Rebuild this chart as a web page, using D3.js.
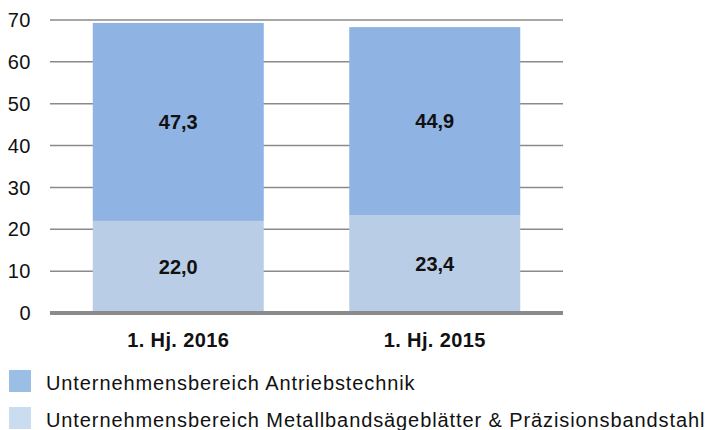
<!DOCTYPE html>
<html>
<head>
<meta charset="utf-8">
<script src="https://cdn.jsdelivr.net/npm/d3@7"></script>
<style>
  body { margin: 0; background: #fff; }
  svg { font-family: "Liberation Sans", Arial, sans-serif; }
</style>
</head>
<body>
<div class="chart"></div>
<script>
const categories = ["1. Hj. 2016", "1. Hj. 2015"];
const metall = [22.0, 23.4];
const antrieb = [47.3, 44.9];
const seriesNames = [
  "Unternehmensbereich Antriebstechnik",
  "Unternehmensbereich Metallbandsägeblätter & Präzisionsbandstahl"
];
const yTicks = [0, 10, 20, 30, 40, 50, 60, 70];

const fmt = v => v.toFixed(1).replace(".", ",");

const svg = d3.select(".chart").append("svg")
  .attr("width", 712)
  .attr("height", 430);

const x = d3.scaleBand()
  .domain(categories)
  .range([50, 563])
  .paddingInner(1 / 3)
  .paddingOuter(1 / 6);

const y = d3.scaleLinear()
  .domain([0, 70])
  .range([313, 20]);

// gridlines
svg.append("g")
  .selectAll("line")
  .data(yTicks.filter(d => d > 0))
  .join("line")
  .attr("x1", 50).attr("x2", 563)
  .attr("y1", d => y(d)).attr("y2", d => y(d))
  .attr("stroke", "#8a8a8a")
  .attr("stroke-width", 1.5);

// y axis labels
svg.append("g")
  .selectAll("text")
  .data(yTicks)
  .join("text")
  .attr("x", 31)
  .attr("y", d => y(d))
  .attr("dy", "0.36em")
  .attr("text-anchor", "end")
  .attr("font-size", 20)
  .attr("letter-spacing", 0.5)
  .attr("fill", "#111")
  .text(d => d);

const stacks = categories.map((c, i) => ({ c, m: metall[i], a: antrieb[i] }));

// bottom segment
svg.append("g")
  .selectAll("rect")
  .data(stacks)
  .join("rect")
  .attr("x", d => x(d.c))
  .attr("width", x.bandwidth())
  .attr("y", d => y(d.m))
  .attr("height", d => y(0) - y(d.m))
  .attr("fill", "#b9cde6");

// top segment
svg.append("g")
  .selectAll("rect")
  .data(stacks)
  .join("rect")
  .attr("x", d => x(d.c))
  .attr("width", x.bandwidth())
  .attr("y", d => y(d.m + d.a))
  .attr("height", d => y(d.m) - y(d.m + d.a))
  .attr("fill", "#8fb3e2");

// baseline
svg.append("line")
  .attr("x1", 50).attr("x2", 563)
  .attr("y1", y(0)).attr("y2", y(0))
  .attr("stroke", "#8a8a8a")
  .attr("stroke-width", 4);

// value labels
const lab = svg.append("g")
  .attr("font-size", 20)
  .attr("font-weight", "bold")
  .attr("text-anchor", "middle")
  .attr("fill", "#111");

stacks.forEach(d => {
  const cx = x(d.c) + x.bandwidth() / 2;
  lab.append("text")
    .attr("x", cx).attr("y", y(d.m / 2)).attr("dy", "0.36em")
    .text(fmt(d.m));
  lab.append("text")
    .attr("x", cx).attr("y", y(d.m + d.a / 2)).attr("dy", "0.36em")
    .text(fmt(d.a));
});

// category labels
svg.append("g")
  .selectAll("text")
  .data(categories)
  .join("text")
  .attr("x", d => x(d) + x.bandwidth() / 2)
  .attr("y", 340)
  .attr("dy", "0.36em")
  .attr("text-anchor", "middle")
  .attr("font-size", 20)
  .attr("font-weight", "bold")
  .attr("letter-spacing", 0.4)
  .attr("fill", "#111")
  .text(d => d);

// legend
const legendColors = ["#9bbfe4", "#c9dcf0"];
const lg = svg.append("g")
  .selectAll("g")
  .data(seriesNames)
  .join("g")
  .attr("transform", (d, i) => `translate(9,${370 + i * 37})`);

lg.append("rect")
  .attr("width", 22).attr("height", 22)
  .attr("fill", (d, i) => legendColors[i]);

lg.append("text")
  .attr("x", 37)
  .attr("y", 13)
  .attr("dy", "0.36em")
  .attr("font-size", 20)
  .attr("letter-spacing", 0.9)
  .attr("fill", "#111")
  .text(d => d);
</script>
</body>
</html>
